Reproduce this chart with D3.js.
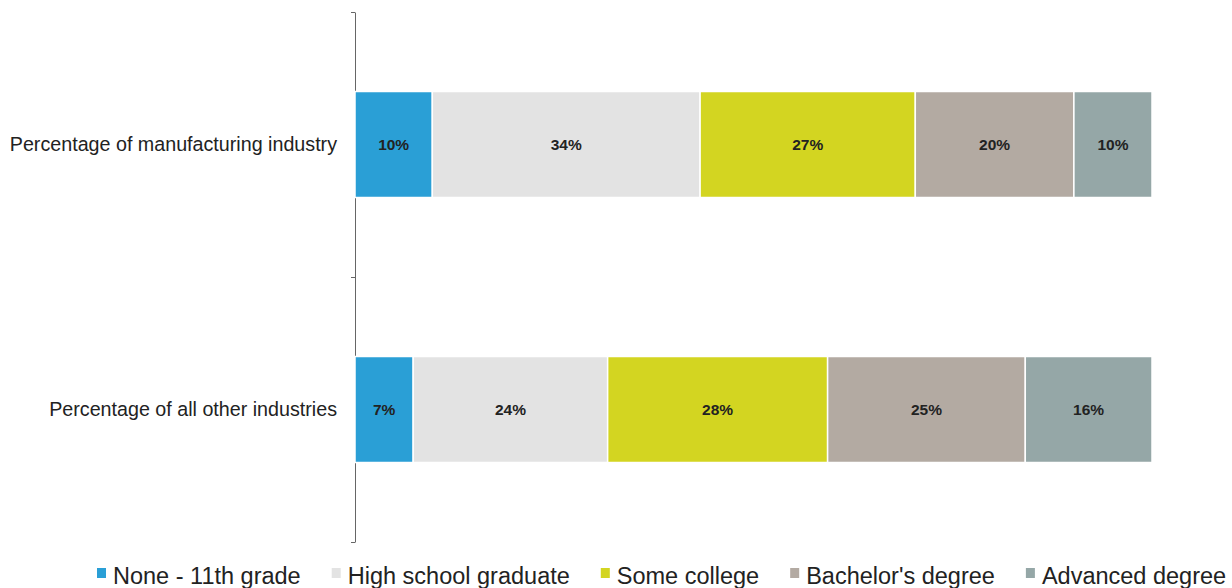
<!DOCTYPE html>
<html>
<head>
<meta charset="utf-8">
<script src="https://cdn.jsdelivr.net/npm/d3@7"></script>
<style>
  body { margin: 0; background: #fff; }
  text { font-family: "Liberation Sans", Arial, Helvetica, sans-serif; }
</style>
</head>
<body>
<div id="chart"></div>
<script>
// data (percent of workers by education level)
var categories = ['Percentage of manufacturing industry', 'Percentage of all other industries']
var levels     = ['None - 11th grade', 'High school graduate', 'Some college', "Bachelor's degree", 'Advanced degree']
var colors     = ['#2a9fd6', '#e3e3e3', '#d3d521', '#b3aaa2', '#95a7a7']
var manufacturing = [9.7, 33.6, 27.0, 19.9, 9.8]
var otherIndustries = [7.3, 24.4, 27.6, 24.8, 15.9]
var seriesValues = [manufacturing, otherIndustries]

function buildChart() {
  var width = 1232
  var height = 588
  var margin = {top: 12, right: 80, bottom: 46, left: 355}

  var svg = d3.select('#chart')
    .append('svg')
      .attr('width', width)
      .attr('height', height)

  var x = d3.scaleLinear().domain([0, 100]).range([margin.left, width - margin.right])
  var y = d3.scaleBand().domain(categories).range([margin.top, height - margin.bottom])
    .paddingInner(0.6).paddingOuter(0.3)

  // axis with ticks between the categories
  var yTicks = d3.scaleLinear().domain([0, categories.length]).range([margin.top, height - margin.bottom])
  svg.append('g')
    .attr('transform', 'translate(' + margin.left + ',0)')
    .call(d3.axisLeft(yTicks).tickValues(d3.range(categories.length + 1)).tickFormat('').tickSize(4).tickSizeOuter(0))
    .call(g => g.selectAll('path, line').attr('stroke', '#666'))

  // category labels
  svg.append('g').selectAll('text')
    .data(categories)
    .join('text')
      .attr('x', margin.left - 18)
      .attr('y', d => y(d) + y.bandwidth() / 2)
      .attr('dy', '0.35em')
      .attr('text-anchor', 'end')
      .attr('font-size', '19.7px')
      .attr('fill', '#222')
      .text(d => d)

  // stacked segments
  categories.forEach(function(cat, ci) {
    var vals = seriesValues[ci]
    var start = 0
    var segs = vals.map(function(v, i) {
      var s = {level: levels[i], color: colors[i], x0: start, x1: start + v, value: v}
      start += v
      return s
    })
    var row = svg.append('g')
    row.selectAll('rect')
      .data(segs)
      .join('rect')
        .attr('x', d => x(d.x0))
        .attr('y', y(cat))
        .attr('width', d => x(d.x1) - x(d.x0))
        .attr('height', y.bandwidth())
        .attr('fill', d => d.color)
        .attr('stroke', '#fff')
        .attr('stroke-width', 1.5)
    row.selectAll('text')
      .data(segs)
      .join('text')
        .attr('x', d => (x(d.x0) + x(d.x1)) / 2)
        .attr('y', y(cat) + y.bandwidth() / 2)
        .attr('dy', '0.35em')
        .attr('text-anchor', 'middle')
        .attr('font-size', '15.5px')
        .attr('font-weight', 'bold')
        .attr('fill', '#222')
        .text(d => d3.format('.0f')(d.value) + '%')
  })

  // legend
  var legend = svg.append('g').attr('transform', 'translate(97,584)')
  var lx = 0
  levels.forEach(function(lv, i) {
    var item = legend.append('g').attr('transform', 'translate(' + lx + ',0)')
    item.append('rect')
      .attr('x', 0).attr('y', -16)
      .attr('width', 9).attr('height', 10)
      .attr('fill', colors[i])
    var t = item.append('text')
      .attr('x', 16)
      .attr('font-size', '23.5px')
      .attr('fill', '#222')
      .text(lv)
    lx += 16 + t.node().getComputedTextLength() + 31
  })
}

buildChart()
</script>
</body>
</html>
